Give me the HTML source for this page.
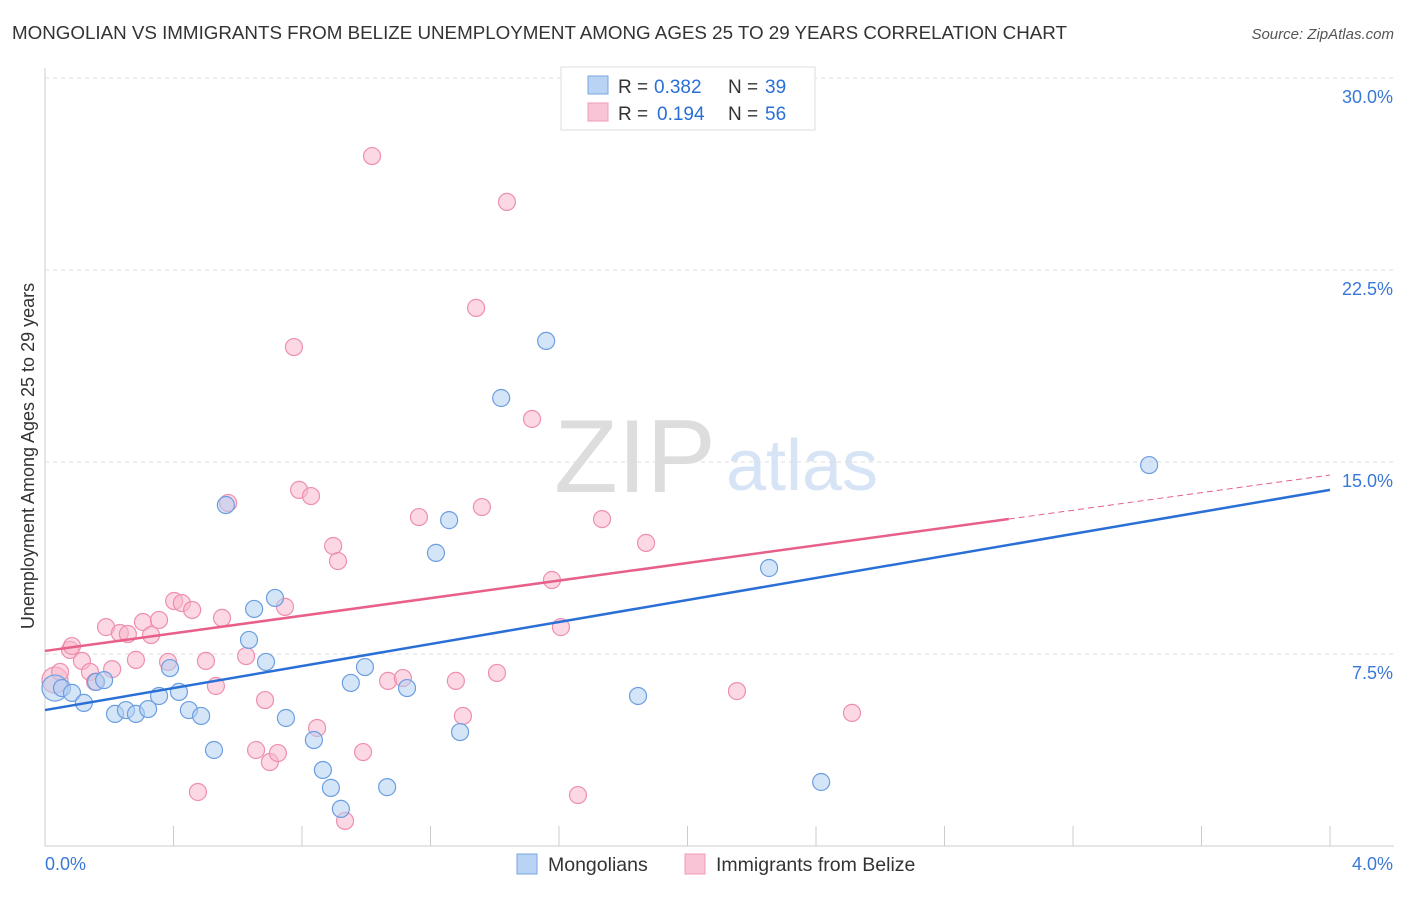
<!DOCTYPE html>
<html><head><meta charset="utf-8"><style>
body{margin:0;background:#fff;font-family:"Liberation Sans",sans-serif}
svg text{font-family:"Liberation Sans",sans-serif}
</style></head><body>
<svg id="chart" width="1406" height="892">
<text x="12" y="39" font-size="18.8" fill="#333" textLength="1055">MONGOLIAN VS IMMIGRANTS FROM BELIZE UNEMPLOYMENT AMONG AGES 25 TO 29 YEARS CORRELATION CHART</text>
<text x="1394" y="39" font-size="15" fill="#555" font-style="italic" text-anchor="end">Source: ZipAtlas.com</text>
<text x="635" y="492" font-size="104" fill="#ddd" font-family="Liberation Serif" text-anchor="middle">ZIP</text>
<text x="802" y="490" font-size="72" fill="#d6e4f5" text-anchor="middle">atlas</text>
<text transform="translate(34,456) rotate(-90)" font-size="18" fill="#333" text-anchor="middle">Unemployment Among Ages 25 to 29 years</text>
<g id="grid"></g><g id="marks"></g>
<g>
<rect x="561" y="67" width="254" height="63" fill="#fff" stroke="#ddd"/>
<rect x="588" y="76" width="20" height="18" fill="#b8d3f4" stroke="#7aa6e0"/>
<rect x="588" y="103" width="20" height="18" fill="#f9c5d6" stroke="#f09ab6"/>
<text x="618" y="93" font-size="19" fill="#333">R =</text>
<text x="654" y="93" font-size="19" fill="#2a6fd6">0.382</text>
<text x="728" y="93" font-size="19" fill="#333">N =</text>
<text x="765" y="93" font-size="19" fill="#2a6fd6">39</text>
<text x="618" y="120" font-size="19" fill="#333">R =</text>
<text x="657" y="120" font-size="19" fill="#2a6fd6">0.194</text>
<text x="728" y="120" font-size="19" fill="#333">N =</text>
<text x="765" y="120" font-size="19" fill="#2a6fd6">56</text>
</g>
<g>
<rect x="517" y="854" width="20" height="20" fill="#b8d3f4" stroke="#7aa6e0"/>
<text x="548" y="871" font-size="19.5" fill="#333">Mongolians</text>
<rect x="685" y="854" width="20" height="20" fill="#f9c5d6" stroke="#f09ab6"/>
<text x="716" y="871" font-size="19.5" fill="#333">Immigrants from Belize</text>
</g>
<text x="45" y="870" font-size="18" fill="#3a78d8">0.0%</text>
<text x="1393" y="870" font-size="18" fill="#3a78d8" text-anchor="end">4.0%</text>
</svg>
<script>
const yTicks=[7.5,15,22.5,30];
const yTickLabels=["7.5%","15.0%","22.5%","30.0%"];
const xTicks=[0,0.4,0.8,1.2,1.6,2.0,2.4,2.8,3.2,3.6,4.0];
const blueX=[.031,.053,.084,.121,.159,.184,.218,.252,.283,.321,.355,.389,.417,.448,.486,.526,.563,.635,.651,.688,.716,.750,.837,.865,.890,.921,.952,.996,1.065,1.127,1.217,1.258,1.292,1.420,1.560,1.846,2.254,2.416,3.437];
const blueY=[6.17,6.17,5.98,5.59,6.41,6.48,5.16,5.31,5.16,5.35,5.86,6.95,6.02,5.31,5.08,3.75,13.32,8.05,9.26,7.19,9.69,5.00,4.14,2.97,2.27,1.45,6.37,6.99,2.30,6.17,11.45,12.73,4.45,17.50,19.73,5.86,10.86,2.50,14.88];
const pinkX=[.031,.047,.078,.084,.115,.140,.156,.190,.209,.233,.258,.283,.305,.330,.355,.383,.402,.426,.458,.476,.501,.532,.551,.570,.626,.657,.685,.700,.725,.747,.775,.791,.828,.847,.897,.912,.934,.990,1.018,1.068,1.114,1.164,1.279,1.301,1.342,1.360,1.407,1.438,1.516,1.578,1.606,1.659,1.734,1.871,2.154,2.512];
const pinkY=[6.48,6.80,7.66,7.81,7.23,6.80,6.41,8.55,6.91,8.32,8.28,7.27,8.75,8.24,8.83,7.19,9.57,9.49,9.22,2.11,7.23,6.25,8.91,13.40,7.42,3.75,5.70,3.28,3.63,9.34,19.49,13.91,13.67,4.61,11.72,11.13,0.98,3.67,26.95,6.45,6.56,12.85,6.45,5.08,21.02,13.24,6.76,25.16,16.68,10.39,8.55,1.99,12.77,11.84,6.05,5.20];
const blueTrend=[5.31,13.91];
const pinkTrend=[7.62,14.49];
const NS="http://www.w3.org/2000/svg";
const X=v=>45+v*321.25, Y=v=>846-v*25.6;
function mk(tag,attrs,parent){const e=document.createElementNS(NS,tag);for(const k in attrs)e.setAttribute(k,attrs[k]);parent.appendChild(e);return e;}
const grid=document.getElementById('grid'), marks=document.getElementById('marks');
let ax=mk('line',{x1:45,y1:68,x2:45,y2:846,stroke:'#ccc'},grid);


let bx=mk('line',{x1:45,y1:846,x2:1394,y2:846,stroke:'#ccc'},grid);


yTicks.forEach((t,i)=>{
 const g=mk('line',{x1:45,x2:1394,y1:Y(t),y2:Y(t),stroke:'#ddd','stroke-dasharray':'4,4'},grid);
 
 
 const l=mk('text',{x:1393,y:Y(t)+25,'font-size':18,fill:'#3a78d8','text-anchor':'end'},grid);
 l.textContent=yTickLabels[i];
 
 
});
xTicks.forEach(t=>{
 const k=mk('line',{x1:X(t),x2:X(t),y1:826,y2:846,stroke:'#ccc'},grid);
 
 
});
function pts(xs,ys,fill,stroke,name){
 xs.forEach((x,i)=>{
  const c=mk('circle',{cx:X(x),cy:Y(ys[i]),r:i<1?13:8.5,fill:fill,'fill-opacity':0.55,stroke:stroke,'stroke-width':1.2},marks);
  
  
 });
}
pts(pinkX,pinkY,'#f7b8cc','#ee8fae','belize-point');
pts(blueX,blueY,'#b3cff2','#6b9ee0','mongolian-point');
const pe=pinkTrend[0]+(pinkTrend[1]-pinkTrend[0])*0.75;
let l1=mk('line',{x1:X(0),y1:Y(pinkTrend[0]),x2:X(3),y2:Y(pe),stroke:'#e8608a','stroke-width':2.5},marks);


let l2=mk('line',{x1:X(3),y1:Y(pe),x2:X(4),y2:Y(pinkTrend[1]),stroke:'#e8608a','stroke-width':1,'stroke-dasharray':'6,4'},marks);


let l3=mk('line',{x1:X(0),y1:Y(blueTrend[0]),x2:X(4),y2:Y(blueTrend[1]),stroke:'#2a6fd6','stroke-width':2.5},marks);


</script>
</body></html>
